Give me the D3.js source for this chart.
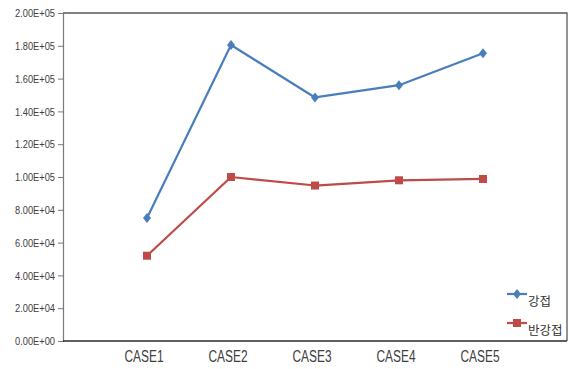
<!DOCTYPE html>
<html>
<head>
<meta charset="utf-8">
<script src="https://cdn.jsdelivr.net/npm/d3@7"></script>
<style>
  html, body { margin: 0; padding: 0; background: #fff; }
  svg { display: block; }
</style>
</head>
<body>
<svg id="chart" width="569" height="369"></svg>
<script>
// Categories, series and tick labels
const categories = ["CASE1", "CASE2", "CASE3", "CASE4", "CASE5"];
const rigidValues = [75000, 180500, 148500, 156000, 175500];      // 강접
const semiRigidValues = [52000, 100000, 94800, 98000, 98800];     // 반강접
const seriesNames = ["강접", "반강접"];
const yTicks = [0, 20000, 40000, 60000, 80000, 100000, 120000, 140000, 160000, 180000, 200000];

const series = [
  { name: seriesNames[0], values: rigidValues, color: "#4A7EBB", marker: "diamond" },
  { name: seriesNames[1], values: semiRigidValues, color: "#BE4B48", marker: "square" }
];

const svg = d3.select("#chart");
const plot = { left: 63, top: 13, right: 567, bottom: 341 };

const x = d3.scaleBand().domain(categories).range([105, 525]);
const y = d3.scaleLinear().domain([0, 200000]).range([plot.bottom, plot.top]);

// Plot frame: top and right edges
svg.append("path")
  .attr("d", `M${plot.left},${plot.top}H${plot.right}V${plot.bottom}`)
  .attr("fill", "none")
  .attr("stroke", "#5a5a5a")
  .attr("stroke-width", 1.3);

// Y axis
const fmt = v => {
  if (v === 0) return "0.00E+00";
  const e = Math.floor(Math.log10(v));
  const m = v / Math.pow(10, e);
  return m.toFixed(2) + "E+" + String(e).padStart(2, "0");
};
const yAxis = svg.append("g")
  .attr("transform", `translate(${plot.left},0)`)
  .call(d3.axisLeft(y).tickValues(yTicks).tickFormat(fmt).tickSize(5).tickPadding(3));
yAxis.select(".domain").attr("stroke", "#7a7a7a").attr("stroke-width", 1.2);
yAxis.selectAll(".tick line").attr("stroke", "#7a7a7a");
yAxis.selectAll(".tick text")
  .attr("fill", "#404040")
  .attr("font-family", "'Liberation Sans Narrow', 'Liberation Sans', Arial, sans-serif")
  .attr("font-size", 11.5)
  .attr("textLength", 40)
  .attr("lengthAdjust", "spacingAndGlyphs");

// X axis line
svg.append("line")
  .attr("x1", plot.left).attr("x2", plot.right)
  .attr("y1", plot.bottom).attr("y2", plot.bottom)
  .attr("stroke", "#2a2a2a").attr("stroke-width", 1.4);

// X labels
svg.append("g").selectAll("text")
  .data(categories)
  .join("text")
  .attr("x", d => x(d) + x.bandwidth() / 2 - 3)
  .attr("y", 362)
  .attr("text-anchor", "middle")
  .attr("fill", "#404040")
  .attr("font-family", "'Liberation Sans Narrow', 'Liberation Sans', Arial, sans-serif")
  .attr("font-size", 16)
  .attr("textLength", 39)
  .attr("lengthAdjust", "spacingAndGlyphs")
  .text(d => d);

const line = d3.line()
  .x((d, i) => x(categories[i]) + x.bandwidth() / 2)
  .y(d => y(d));

const diamond = (cx, cy) => `M${cx},${cy - 5}L${cx + 4},${cy}L${cx},${cy + 5}L${cx - 4},${cy}Z`;
const square = (cx, cy) => `M${cx - 4},${cy - 4}h8v8h-8Z`;
const markerPath = (m, cx, cy) => m === "diamond" ? diamond(cx, cy) : square(cx, cy);

// Series lines and markers
series.forEach(s => {
  svg.append("path")
    .datum(s.values)
    .attr("d", line)
    .attr("fill", "none")
    .attr("stroke", s.color)
    .attr("stroke-width", 2.2)
    .attr("stroke-linejoin", "round");
  svg.append("g").selectAll("path")
    .data(s.values)
    .join("path")
    .attr("d", (d, i) => markerPath(s.marker, x(categories[i]) + x.bandwidth() / 2, y(d)))
    .attr("fill", s.color);
});

// Legend
const legend = svg.append("g");
series.forEach((s, i) => {
  const ly = 294 + i * 29;
  legend.append("line")
    .attr("x1", 507).attr("x2", 527)
    .attr("y1", ly).attr("y2", ly)
    .attr("stroke", s.color).attr("stroke-width", 2.2);
  legend.append("path")
    .attr("d", markerPath(s.marker, 517, ly))
    .attr("fill", s.color);
  legend.append("text")
    .attr("x", 528)
    .attr("y", ly + 12)
    .attr("fill", "#333")
    .attr("font-family", "'Noto Sans CJK KR', sans-serif")
    .attr("font-size", 12.5)
    .text(s.name);
});
</script>
</body>
</html>
